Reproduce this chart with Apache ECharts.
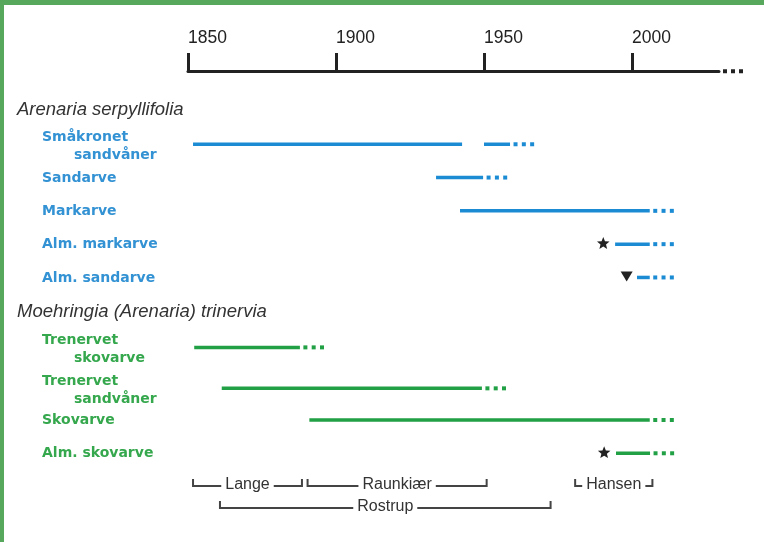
<!DOCTYPE html>
<html><head><meta charset="utf-8">
<script src="https://cdn.jsdelivr.net/npm/echarts@6/dist/echarts.min.js"></script>
<style>
html,body{margin:0;padding:0;background:#fff;}
#wrap{position:relative;width:764px;height:542px;overflow:hidden;}
#chart{position:absolute;left:0;top:0;width:764px;height:542px;}
#frame{position:absolute;left:0;top:0;width:760px;height:537px;border-top:5px solid #57a85d;border-left:4px solid #57a85d;pointer-events:none;}
</style></head><body>
<div id="wrap"><div id="chart"></div><div id="frame"></div></div>
<script>
// ---------- data ----------
const tickYears = [1850, 1900, 1950, 2000];
const groupNames = ['Arenaria serpyllifolia', 'Moehringia (Arenaria) trinervia'];

const blueNames = ['Småkronet\nsandvåner', 'Sandarve', 'Markarve', 'Alm. markarve', 'Alm. sandarve'];
const blueSpans = [
  [[1851.7, 1942.6], [1950.0, 1958.8]],
  [[1933.8, 1949.7]],
  [[1941.9, 2006.0]],
  [[1994.3, 2006.0]],
  [[2001.7, 2006.0]]
];
const blueMarkYears = [null, null, null, 1990.3, 1998.2];
const blueMarkSymbols = ['', '', '', 'star', 'triangle'];

const greenNames = ['Trenervet\nskovarve', 'Trenervet\nsandvåner', 'Skovarve', 'Alm. skovarve'];
const greenSpans = [
  [[1852.1, 1887.8]],
  [[1861.4, 1949.3]],
  [[1891.0, 2006.0]],
  [[1994.6, 2006.1]]
];
const greenMarkYears = [null, null, null, 1990.6];
const greenMarkSymbols = ['', '', '', 'star'];

const botanists = ['Lange', 'Raunkiær', 'Hansen', 'Rostrup'];
const botanistStart = [1851.7, 1890.4, 1980.8, 1860.8];
const botanistEnd = [1888.5, 1950.9, 2006.9, 1972.5];
const botanistLevel = [0, 0, 0, 1];

// ---------- layout (row slots in row units) ----------
const headerSlots = [-1.03, 5.03];
const blueSlots = [0, 1, 2, 3, 4];
const greenSlots = [6.1, 7.33, 8.28, 9.28];
const bracketSlots = [10.26, 10.92];

const BLUE_LINE = '#1b8bd4', BLUE_TEXT = '#3392d3';
const GREEN_LINE = '#21a045', GREEN_TEXT = '#35a74d';
const DARK = '#222';

function starPoints(cx, cy, R, r) {
  const pts = [];
  for (let k = 0; k < 10; k++) {
    const ang = -Math.PI / 2 + k * Math.PI / 5;
    const rad = k % 2 === 0 ? R : r;
    pts.push([cx + rad * Math.cos(ang), cy + rad * Math.sin(ang)]);
  }
  return pts;
}

function speciesRenderer(names, spans, markYears, markSyms, lineColor, textColor) {
  return function (params, api) {
    const i = params.dataIndex;
    const slot = api.value(2);
    const cs = params.coordSys;
    const y = api.coord([1850, slot])[1];
    const children = [];
    const lines = names[i].split('\n');
    const labelX = cs.x - 146;
    lines.forEach(function (t, k) {
      children.push({
        type: 'text',
        style: {
          text: t, x: labelX + (k ? 32 : 0),
          y: y + (lines.length > 1 ? -7.3 + k * 18.5 : 0.5),
          fontFamily: 'DejaVu Sans', fontWeight: 'bold', fontSize: 14,
          fill: textColor, align: 'left', verticalAlign: 'middle'
        }
      });
    });
    let lastX = null;
    spans[i].forEach(function (s) {
      const x1 = api.coord([s[0], slot])[0];
      const x2 = api.coord([s[1], slot])[0];
      lastX = x2;
      children.push({
        type: 'line',
        shape: { x1: x1, y1: y, x2: x2, y2: y },
        style: { stroke: lineColor, lineWidth: 3.5, lineCap: 'butt' }
      });
    });
    for (let k = 0; k < 3; k++) {
      children.push({
        type: 'rect',
        shape: { x: lastX + 3.5 + k * 8.3, y: y - 2, width: 4, height: 4 },
        style: { fill: lineColor }
      });
    }
    if (markYears[i] != null) {
      const mx = api.coord([markYears[i], slot])[0];
      if (markSyms[i] === 'star') {
        children.push({ type: 'polygon', shape: { points: starPoints(mx, y - 0.5, 6.6, 2.9) }, style: { fill: DARK } });
      } else {
        children.push({ type: 'polygon', shape: { points: [[mx - 6, y - 6], [mx + 6, y - 6], [mx, y + 4]] }, style: { fill: DARK } });
      }
    }
    return { type: 'group', children: children };
  };
}

function headerRenderer(params, api) {
  const cs = params.coordSys;
  const y = api.coord([1850, api.value(1)])[1];
  return {
    type: 'text',
    style: {
      text: groupNames[params.dataIndex], x: cs.x - 171, y: y,
      fontFamily: 'Liberation Sans', fontStyle: 'italic', fontSize: 18.5,
      fill: '#333', align: 'left', verticalAlign: 'middle'
    }
  };
}

function bracketRenderer(params, api) {
  const i = params.dataIndex;
  const slot = api.value(2);
  const p1 = api.coord([api.value(0), slot]);
  const p2 = api.coord([api.value(1), slot]);
  const y = p1[1];
  const st = { stroke: '#444', lineWidth: 2 };
  return {
    type: 'group',
    children: [
      { type: 'polyline', shape: { points: [[p1[0], y - 7], [p1[0], y], [p2[0], y], [p2[0], y - 7]] }, style: Object.assign({ fill: null }, st) },
      {
        type: 'text',
        style: {
          text: botanists[i], x: (p1[0] + p2[0]) / 2, y: y - 1,
          fontFamily: 'Liberation Sans', fontSize: 16, fill: '#333',
          align: 'center', verticalAlign: 'middle',
          backgroundColor: '#fff', padding: [1, 4]
        }
      }
    ]
  };
}

const chart = echarts.init(document.getElementById('chart'), null, { renderer: 'canvas' });
chart.setOption({
  backgroundColor: '#fff',
  animation: false,
  grid: { left: 188, top: 71, width: 531, height: 456.2 },
  xAxis: {
    type: 'value', position: 'top', min: 1850, max: 2029.4,
    splitLine: { show: false },
    axisLine: { show: true, onZero: false, lineStyle: { color: DARK, width: 3 } },
    axisTick: { show: true, inside: false, length: 18, customValues: tickYears, lineStyle: { color: DARK, width: 3 } },
    axisLabel: { customValues: tickYears, align: 'left', margin: 24, fontFamily: 'Liberation Sans', fontSize: 17.5, color: DARK, formatter: function (v) { return String(v); } }
  },
  yAxis: { type: 'value', inverse: true, min: -2.2, max: 11.5, show: false },
  series: [
    {
      type: 'custom', name: 'axis-continuation', clip: false, silent: true,
      renderItem: function (params, api) {
        const cs = params.coordSys;
        const ch = [];
        for (let k = 0; k < 3; k++) ch.push({ type: 'rect', shape: { x: cs.x + cs.width + 4 + k * 8, y: cs.y - 1.75, width: 4, height: 4 }, style: { fill: DARK } });
        return { type: 'group', children: ch };
      },
      data: [[2029.4, -2.2]]
    },
    {
      type: 'custom', name: 'headers', clip: false, renderItem: headerRenderer,
      encode: { x: 0, y: 1 },
      data: groupNames.map(function (g, i) { return [1850, headerSlots[i]]; })
    },
    {
      type: 'custom', name: groupNames[0], clip: false,
      renderItem: speciesRenderer(blueNames, blueSpans, blueMarkYears, blueMarkSymbols, BLUE_LINE, BLUE_TEXT),
      encode: { x: [0, 1], y: 2 },
      data: blueSpans.map(function (s, i) { return [s[0][0], s[s.length - 1][1], blueSlots[i]]; })
    },
    {
      type: 'custom', name: groupNames[1], clip: false,
      renderItem: speciesRenderer(greenNames, greenSpans, greenMarkYears, greenMarkSymbols, GREEN_LINE, GREEN_TEXT),
      encode: { x: [0, 1], y: 2 },
      data: greenSpans.map(function (s, i) { return [s[0][0], s[s.length - 1][1], greenSlots[i]]; })
    },
    {
      type: 'custom', name: 'botanists', clip: false, renderItem: bracketRenderer,
      encode: { x: [0, 1], y: 2 },
      data: botanists.map(function (b, i) { return [botanistStart[i], botanistEnd[i], bracketSlots[botanistLevel[i]]]; })
    }
  ]
});
</script>
</body></html>
